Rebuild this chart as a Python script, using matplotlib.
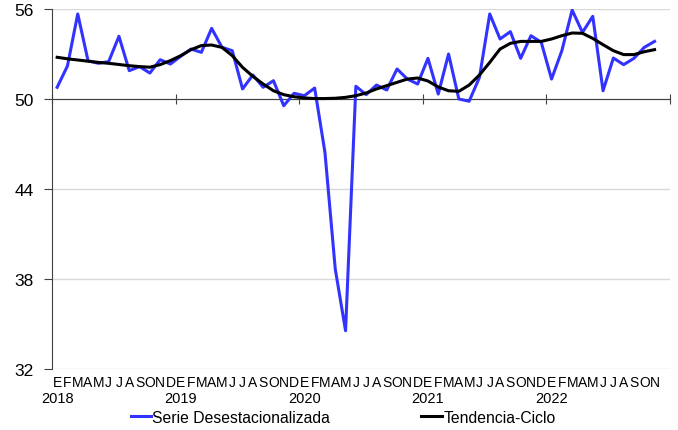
import numpy as np
import matplotlib
matplotlib.use("Agg")
import matplotlib.pyplot as plt
from matplotlib.transforms import blended_transform_factory

plt.rcParams['font.family'] = ['Liberation Sans', 'DejaVu Sans']

years = ['2018', '2019', '2020', '2021', '2022']
month_letters = ['E', 'F', 'M', 'A', 'M', 'J', 'J', 'A', 'S', 'O', 'N', 'D']

serie = [
    50.78, 52.2, 55.67, 52.55, 52.38, 52.49, 54.18, 51.89, 52.16, 51.73, 52.62, 52.33,
    52.85, 53.33, 53.11, 54.71, 53.45, 53.22, 50.67, 51.6, 50.78, 51.22, 49.55, 50.38,
    50.22, 50.73, 46.44, 38.67, 34.55, 50.85, 50.29, 50.93, 50.6, 52.0, 51.33, 51.0,
    52.71, 50.33, 53.0, 50.0, 49.85, 51.44, 55.67, 54.0, 54.49, 52.71, 54.22, 53.78,
    51.33, 53.22, 55.93, 54.44, 55.51, 50.55, 52.73, 52.29, 52.71, 53.44, 53.84,
]
tendencia = [
    52.78, 52.68, 52.6, 52.52, 52.44, 52.38, 52.3, 52.22, 52.16, 52.12, 52.29, 52.56,
    52.89, 53.29, 53.56, 53.6, 53.44, 52.89, 52.11, 51.51, 51.0, 50.55, 50.29, 50.15,
    50.07, 50.03, 50.03, 50.05, 50.11, 50.22, 50.4, 50.67, 50.89, 51.11, 51.33, 51.4,
    51.2, 50.8, 50.55, 50.51, 50.93, 51.6, 52.44, 53.33, 53.71, 53.84, 53.84, 53.84,
    54.0, 54.22, 54.4, 54.38, 54.04, 53.62, 53.22, 52.96, 52.96, 53.15, 53.29,
]

x = np.arange(len(serie))

fig = plt.figure(figsize=(6.78, 4.31), dpi=100)
ax = fig.add_axes([52/678, 61/431, 618/678, 360/431])

ax.set_ylim(32, 56)
ax.set_xlim(-0.5, 59.5)
ax.set_yticks([32, 38, 44, 50, 56])
ax.yaxis.grid(True, color='#d9d9d9', linewidth=1)
ax.set_axisbelow(True)

l1, = ax.plot(x, serie, color='#3333ff', linewidth=2.2, label='Serie Desestacionalizada')
l2, = ax.plot(x, tendencia, color='black', linewidth=2.2, label='Tendencia-Ciclo')

for s in ['top', 'right']:
    ax.spines[s].set_visible(False)
ax.spines['bottom'].set_position(('data', 50))
ax.spines['bottom'].set_color('#404040')
ax.spines['left'].set_color('#404040')
ax.spines['bottom'].set_zorder(1)

ax.set_xticks(np.arange(-0.5, 60, 12))
ax.set_xticklabels([])
ax.tick_params(axis='x', direction='inout', length=7, color='#404040')
ax.tick_params(axis='y', direction='out', length=6, color='#404040', labelsize=12.5, pad=7)

trans = blended_transform_factory(ax.transData, ax.transAxes)
for i in range(len(serie)):
    ax.text(i, -0.037, month_letters[i % 12], transform=trans, ha='center', va='center',
            fontsize=10)
for k, yr in enumerate(years):
    ax.text(12 * k, -0.08, yr, transform=trans, ha='center', va='center', fontsize=10.5)

fig.legend(handles=[l1, l2], loc='center', bbox_to_anchor=(0.506, 0.03), ncol=2,
           frameon=False, fontsize=11.3, handlelength=1.3, handletextpad=0.1,
           columnspacing=5.8)

fig.savefig('out.png', dpi=100)
